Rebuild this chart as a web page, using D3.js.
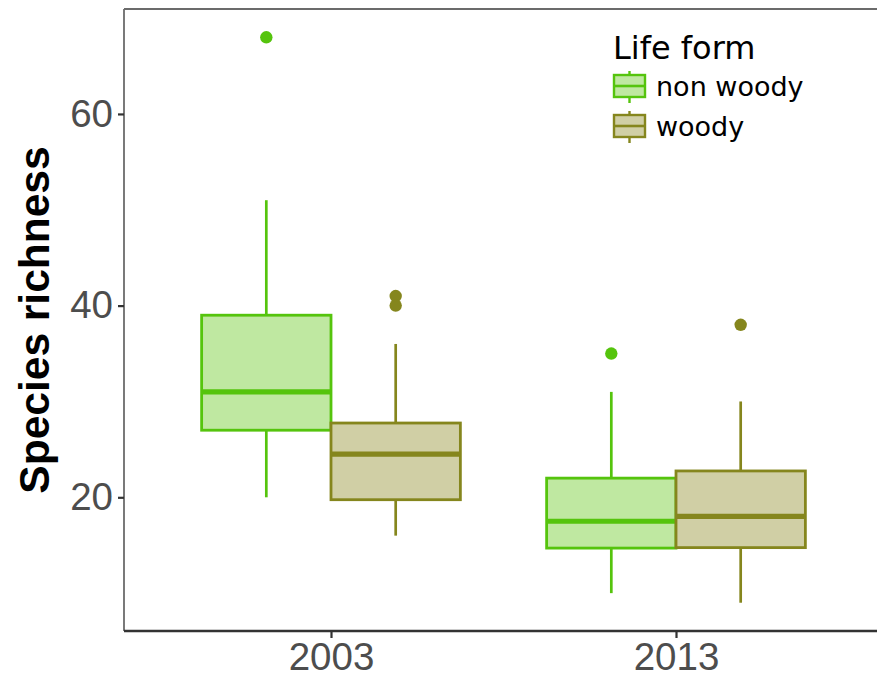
<!DOCTYPE html>
<html>
<head>
<meta charset="utf-8">
<script src="https://cdn.jsdelivr.net/npm/d3@7"></script>
<style>
  html, body { margin: 0; padding: 0; background: #fff; }
  svg { display: block; }
</style>
</head>
<body>
<script>
// ---- data ----
const years = ["2003", "2013"];
const lifeForms = ["non woody", "woody"];
// five-number summaries per [year]: whiskerLow, Q1, median, Q3, whiskerHigh
const nonWoodyStats = [[20, 27, 31, 39, 51], [10, 14.7, 17.5, 22, 31]];
const woodyStats = [[16, 19.75, 24.5, 27.75, 36], [9, 14.75, 18, 22.75, 30]];
const nonWoodyOutliers = [[68], [35]];
const woodyOutliers = [[41, 40], [38]];
const yTicks = [20, 40, 60];
const strokeColors = ["#55c40d", "#85861d"];
const fillColors = ["#bfe8a1", "#d0cfa5"];

const W = 877, H = 677;
const svg = d3.select("body").append("svg").attr("width", W).attr("height", H);

const panel = { left: 124, right: 883, top: 9, bottom: 631 };

const x = d3.scalePoint().domain(years).range([panel.left, panel.right]).padding(0.6);
const step = x.step();
const y = d3.scaleLinear().domain([6.05, 70.95]).range([panel.bottom, panel.top]);

// panel border (gray) - top and left
svg.append("line").attr("x1", panel.left).attr("x2", panel.right).attr("y1", panel.top).attr("y2", panel.top)
  .attr("stroke", "#6b6b6b").attr("stroke-width", 1.8);
svg.append("line").attr("x1", panel.left).attr("x2", panel.left).attr("y1", panel.top).attr("y2", panel.bottom)
  .attr("stroke", "#6b6b6b").attr("stroke-width", 1.8);

const statsAll = [nonWoodyStats, woodyStats];
const outAll = [nonWoodyOutliers, woodyOutliers];
const boxW = step * 0.375;

const g = svg.append("g");
years.forEach((yr, yi) => {
  lifeForms.forEach((lf, li) => {
    const s = statsAll[li][yi];
    const cx = x(yr) + (li === 0 ? -1 : 1) * boxW / 2;
    const col = strokeColors[li];
    // whiskers
    g.append("line").attr("x1", cx).attr("x2", cx).attr("y1", y(s[3])).attr("y2", y(s[4]))
      .attr("stroke", col).attr("stroke-width", 2.7);
    g.append("line").attr("x1", cx).attr("x2", cx).attr("y1", y(s[1])).attr("y2", y(s[0]))
      .attr("stroke", col).attr("stroke-width", 2.7);
    // box
    g.append("rect").attr("x", cx - boxW / 2).attr("y", y(s[3]))
      .attr("width", boxW).attr("height", y(s[1]) - y(s[3]))
      .attr("fill", fillColors[li]).attr("stroke", col).attr("stroke-width", 2.8);
    // median
    g.append("line").attr("x1", cx - boxW / 2).attr("x2", cx + boxW / 2).attr("y1", y(s[2])).attr("y2", y(s[2]))
      .attr("stroke", col).attr("stroke-width", 5.2);
    // outliers
    outAll[li][yi].forEach(v => {
      g.append("circle").attr("cx", cx).attr("cy", y(v)).attr("r", 6.2).attr("fill", col);
    });
  });
});

// x axis
const xAxis = svg.append("g").attr("transform", `translate(0,${panel.bottom})`)
  .call(d3.axisBottom(x).tickSize(7).tickPadding(5));
xAxis.select(".domain").attr("stroke", "#333").attr("stroke-width", 2.4)
  .attr("d", `M${panel.left},0H${panel.right}`);
xAxis.selectAll(".tick line").attr("stroke", "#333").attr("stroke-width", 2.2);
xAxis.selectAll(".tick text").attr("fill", "#4d4d4d")
  .style("font-family", "'Liberation Sans', Arial, sans-serif").style("font-size", "38.5px");

// y axis
const yAxis = svg.append("g").attr("transform", `translate(${panel.left},0)`)
  .call(d3.axisLeft(y).tickValues(yTicks).tickSize(6).tickPadding(5));
yAxis.select(".domain").remove();
yAxis.selectAll(".tick line").attr("stroke", "#333").attr("stroke-width", 2.2);
yAxis.selectAll(".tick text").attr("fill", "#4d4d4d")
  .style("font-family", "'Liberation Sans', Arial, sans-serif").style("font-size", "38.5px");

// y title
svg.append("text")
  .attr("transform", `translate(49,${(panel.top + panel.bottom) / 2}) rotate(-90)`)
  .attr("text-anchor", "middle")
  .style("font-family", "'Liberation Sans', Arial, sans-serif")
  .style("font-size", "42.5px").style("font-weight", "bold").attr("fill", "#000")
  .text("Species richness");

// legend
const leg = svg.append("g").attr("transform", "translate(613,0)");
leg.append("text").attr("x", 0).attr("y", 59)
  .style("font-family", "'DejaVu Sans', sans-serif").style("font-size", "32px").attr("fill", "#000")
  .text("Life form");
lifeForms.forEach((lf, li) => {
  const top = 75 + li * 40;
  const kx = 1, kw = 31, kh = 22;
  const col = strokeColors[li];
  const mid = kx + kw / 2;
  leg.append("line").attr("x1", mid).attr("x2", mid).attr("y1", top - 4).attr("y2", top + kh + 6)
    .attr("stroke", col).attr("stroke-width", 2.4);
  leg.append("rect").attr("x", kx).attr("y", top).attr("width", kw).attr("height", kh)
    .attr("fill", fillColors[li]).attr("stroke", col).attr("stroke-width", 2.4);
  leg.append("line").attr("x1", kx).attr("x2", kx + kw).attr("y1", top + kh / 2).attr("y2", top + kh / 2)
    .attr("stroke", col).attr("stroke-width", 2.6);
  leg.append("text").attr("x", 43).attr("y", top + 21)
    .style("font-family", "'DejaVu Sans', sans-serif").style("font-size", "27px").attr("fill", "#000")
    .text(lf);
});
</script>
</body>
</html>
